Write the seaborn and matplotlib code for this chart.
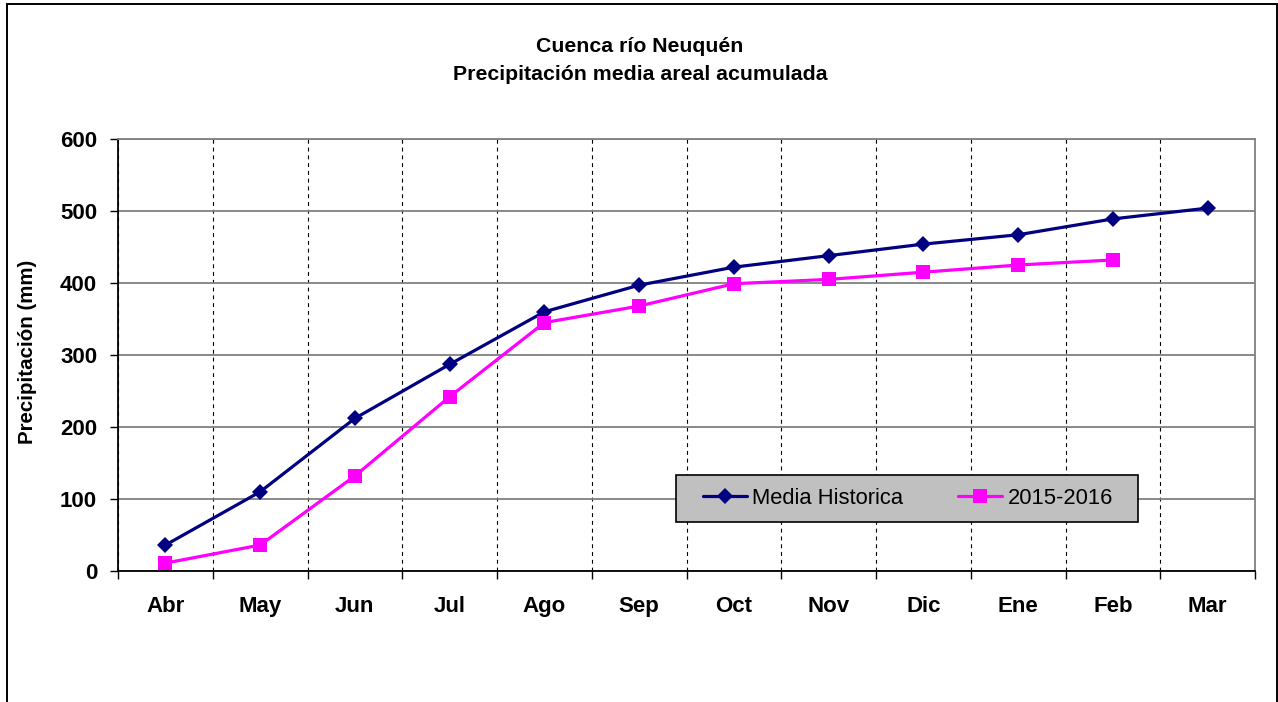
import matplotlib
matplotlib.use("Agg")
import matplotlib.pyplot as plt
from matplotlib.patches import Rectangle
from matplotlib.ticker import FixedLocator, MultipleLocator
import numpy as np
import pandas as pd
import seaborn as sns

# Months of the hydrological year (April to March)
months = ["Abr", "May", "Jun", "Jul", "Ago", "Sep", "Oct", "Nov", "Dic", "Ene", "Feb", "Mar"]

# Accumulated areal mean precipitation (mm)
media_historica = [36, 110, 212, 287, 360, 397, 422, 438, 454, 467, 489, 504]
season_2015_2016 = [11, 36, 132, 242, 345, 368, 399, 405, 415, 425, 432]

series_names = ["Media Historica", "2015-2016"]
series_colors = ["#000080", "#FF00FF"]

sns.set_theme(style="white")
plt.rcParams["font.family"] = ["Liberation Sans", "DejaVu Sans"]
for key in ["text.color", "axes.labelcolor", "xtick.color", "ytick.color"]:
    plt.rcParams[key] = "black"

df = pd.concat([
    pd.DataFrame({"mes": months, "pp": media_historica, "serie": series_names[0]}),
    pd.DataFrame({"mes": months[:len(season_2015_2016)], "pp": season_2015_2016, "serie": series_names[1]}),
], ignore_index=True)
df["x"] = df["mes"].map({m: i for i, m in enumerate(months)})

fig = plt.figure(figsize=(12.78, 7.02), dpi=100)
ax = fig.add_axes([118 / 1278, 1 - 571 / 702, (1255 - 118) / 1278, (571 - 139) / 702])

sns.lineplot(
    data=df, x="x", y="pp", hue="serie", style="serie",
    hue_order=series_names, style_order=series_names,
    palette=series_colors, markers={"Media Historica": "D", "2015-2016": "s"},
    dashes=False, linewidth=2.3, markersize=9, markeredgewidth=0,
    sort=False, ax=ax, zorder=5, legend=False,
)
# marker sizes per series
for line, ms in zip(ax.get_lines(), [8, 10.5]):
    line.set_markersize(ms)

ax.set_xlim(-0.5, len(months) - 0.5)
ax.set_ylim(0, 600)

# y axis
ax.yaxis.set_major_locator(MultipleLocator(100))
ax.tick_params(axis="y", which="major", direction="out", length=6, width=1.0,
               color="black", pad=9, labelsize=16, left=True)
for lab in ax.get_yticklabels():
    lab.set_fontweight("bold")
ax.grid(axis="y", which="major", color="#808080", linewidth=1.3, linestyle="-")

# x axis: labels at month centres, ticks and dashed grid at month boundaries
ax.xaxis.set_major_locator(FixedLocator(np.arange(len(months))))
ax.set_xticklabels(months, fontweight="bold", fontsize=16)
ax.xaxis.set_minor_locator(FixedLocator(np.arange(len(months) + 1) - 0.5))
ax.tick_params(axis="x", which="major", length=0, pad=18)
ax.tick_params(axis="x", which="minor", direction="out", length=6, width=1.0,
               color="black", bottom=True)
ax.grid(axis="x", which="minor", color="black", linewidth=0.8, linestyle=(0, (3.5, 3.5)))
ax.grid(axis="x", which="major", visible=False)
ax.set_axisbelow(True)

ax.set_xlabel("")
ax.set_ylabel("Precipitación (mm)", fontsize=14.8, fontweight="bold")
ax.yaxis.set_label_coords(-0.071, 0.508)

for side in ["left", "bottom"]:
    ax.spines[side].set_color("black")
    ax.spines[side].set_linewidth(1.3)
ax.spines["right"].set_color("#808080")
ax.spines["right"].set_linewidth(1.3)
ax.spines["top"].set_color("#808080")
ax.spines["top"].set_linewidth(1.3)

# legend on a grey box
lx0, lx1 = (676 - 118) / 1137, (1138 - 118) / 1137
ly0, ly1 = (571 - 522) / 432, (571 - 475) / 432
ax.add_patch(Rectangle((lx0, ly0), lx1 - lx0, ly1 - ly0, transform=ax.transAxes,
                       facecolor="#C0C0C0", edgecolor="black", linewidth=1.2, zorder=6))
handles = [plt.Line2D([], [], color=c, marker=m, markersize=ms, linewidth=2.3,
                      markeredgewidth=0)
           for c, m, ms in zip(series_colors, ["D", "s"], [8, 10.5])]
leg = ax.legend(handles, series_names, ncol=2, loc="center",
                bbox_to_anchor=((lx0 + lx1) / 2 + 0.001, (ly0 + ly1) / 2),
                frameon=False, fontsize=15.8, handlelength=2.0, handletextpad=0.25,
                columnspacing=2.5, borderpad=0)
leg.set_zorder(7)

# titles
fig.text(640 / 1278, 1 - 46 / 702, "Cuenca río Neuquén", ha="center", va="center",
         fontsize=15.3, fontweight="bold")
fig.text(640 / 1278, 1 - 75 / 702, "Precipitación media areal acumulada", ha="center",
         va="center", fontsize=15.3, fontweight="bold")

# outer frame around the chart
fig.patches.append(Rectangle((7 / 1278, -0.02), (1277 - 7) / 1278, 1 - 4 / 702 + 0.02,
                             transform=fig.transFigure, fill=False, edgecolor="black",
                             linewidth=1.4))

fig.savefig("out.png", dpi=100)
